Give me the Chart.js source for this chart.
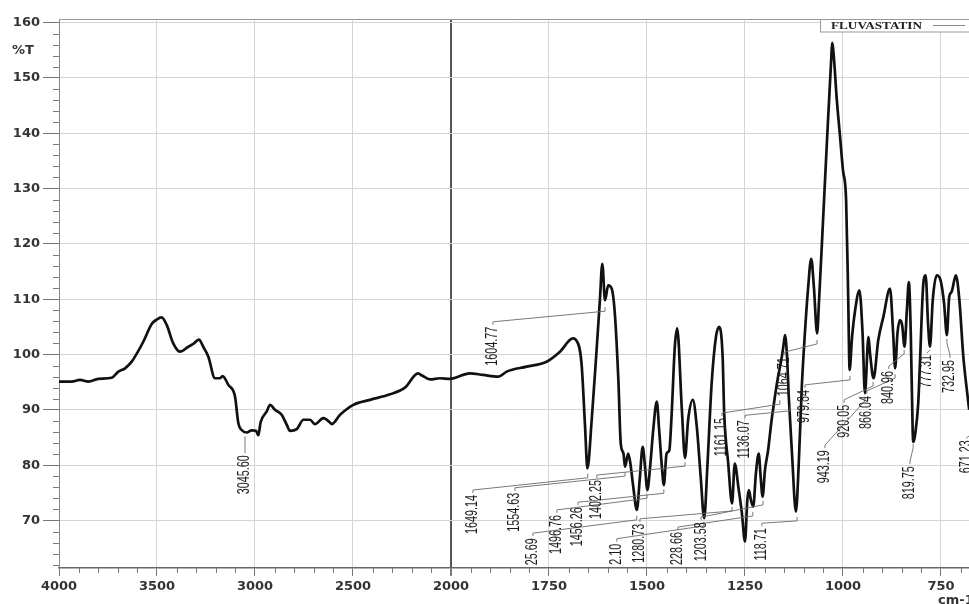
<!DOCTYPE html>
<html>
<head>
<meta charset="utf-8">
<title>FLUVASTATIN IR spectrum</title>
<script src="https://cdn.jsdelivr.net/npm/chart.js@4.4.1/dist/chart.umd.min.js"></script>
<style>
    html, body { margin: 0; padding: 0; background: #fff; }
    #spectrum-chart { display: block; }
</style>
</head>
<body>
<canvas id="spectrum-chart" width="969" height="604"></canvas>
<script>
// Spectrum trace (wavenumber in cm-1, transmittance in %T)
const wavenumbers = [4000, 3935, 3893, 3850, 3800, 3731, 3697, 3663, 3629, 3604, 3570, 3527, 3502, 3476, 3450,
    3417, 3383, 3340, 3315, 3286, 3264, 3238, 3204, 3179, 3165, 3136, 3102, 3085, 3063, 3042, 3017, 2995, 2983,
    2971, 2940, 2923, 2898, 2864, 2838, 2821, 2787, 2753, 2719, 2694, 2651, 2617, 2609, 2566, 2498, 2413, 2311,
    2235, 2168, 2148, 2107, 2056, 2005, 1952, 1918, 1879, 1858, 1807, 1756, 1722, 1689, 1681, 1667, 1658, 1652,
    1641, 1628, 1620, 1614, 1607, 1599, 1590, 1582, 1573, 1567, 1560, 1556, 1548, 1543, 1535, 1526, 1518, 1511,
    1505, 1499, 1492, 1484, 1475, 1469, 1462, 1457, 1450, 1443, 1437, 1429, 1423, 1411, 1403, 1395, 1383, 1373,
    1363, 1354, 1346, 1335, 1324, 1316, 1307, 1303, 1293, 1283, 1276, 1267, 1258, 1250, 1244, 1240, 1235, 1229,
    1222, 1215, 1210, 1205, 1199, 1191, 1182, 1176, 1168, 1156, 1152, 1148, 1143, 1138, 1130, 1120, 1113, 1105,
    1097, 1089, 1081, 1074, 1066, 1061, 1051, 1041, 1031, 1027, 1023, 1016, 1008, 1000, 992, 987, 983, 977, 969,
    958, 950, 944, 935, 931, 922, 910, 897, 880, 872, 867, 861, 855, 849, 843, 837, 832, 827, 822, 820, 816, 808,
    804, 795, 789, 783, 778, 771, 761, 751, 742, 735, 729, 723, 712, 703, 693, 684, 678, 671];
const transmittance = [95.1, 95.1, 95.4, 95.1, 95.6, 95.8, 96.9, 97.5, 98.7, 100.1, 102.3, 105.5, 106.3, 106.7, 105.3,
    102.0, 100.5, 101.4, 101.9, 102.7, 101.4, 99.6, 95.7, 95.7, 96.1, 94.5, 92.4, 87.6, 86.2, 85.9, 86.3, 86.2, 85.4,
    87.8, 89.7, 90.9, 90.0, 89.1, 87.3, 86.2, 86.5, 88.2, 88.2, 87.4, 88.5, 87.7, 87.4, 89.1, 90.9, 91.8, 92.8,
    94.0, 96.6, 96.2, 95.5, 95.7, 95.6, 96.6, 96.3, 96.0, 96.9, 97.8, 98.7, 100.5, 102.9, 102.6, 98.4, 87.0, 79.4,
    88.2, 101.4, 110.0, 116.4, 109.8, 112.5, 111.9, 107.4, 95.4, 84.0, 82.1, 79.7, 82.1, 80.6, 76.1, 71.9, 77.9, 83.3,
    79.7, 75.5, 79.7, 86.4, 91.5, 86.4, 79.7, 76.4, 82.1, 82.7, 89.3, 101.4, 104.7, 90.0, 81.3, 88.2, 91.8, 87.0,
    77.9, 70.4, 79.7, 94.8, 103.2, 105.0, 99.6, 89.3, 80.5, 73.1, 80.3, 76.1, 71.4, 66.2, 73.7, 75.5, 73.7, 72.5,
    78.6, 82.1, 77.9, 74.3, 79.1, 82.7, 88.2, 91.2, 95.0, 99.6, 101.5, 103.5, 100.0, 92.0, 82.0, 71.6, 80.0, 94.2,
    104.0, 112.0, 117.3, 112.0, 103.8, 109.8, 124.0, 138.3, 152.0, 156.3, 153.5, 146.3, 139.8, 133.3, 127.9, 111.6, 97.2, 103.0, 108.0,
    111.6, 103.8, 93.0, 103.2, 100.2, 95.7, 102.6, 106.8, 111.9, 103.8, 97.5, 103.8, 106.2, 105.3, 101.4, 108.0, 113.1, 103.8, 85.7, 84.2, 85.5, 91.2,
    97.8, 112.8, 114.3, 105.6, 101.4, 109.8, 114.3, 113.4, 109.2, 103.5, 110.4, 111.3, 114.3, 109.8, 99.6, 93.6, 90.0, 86.0];

// Axis ticks
const xTickLabels = [4000, 3500, 3000, 2500, 2000, 1750, 1500, 1250, 1000, 750];
const yTickLabels = [70, 80, 90, 100, 110, 120, 130, 140, 150, 160];

// Peak pick labels (text, tip of the leader on the trace, top of the text)
const peakLabels = ['3045.60', '1604.77', '1649.14', '1554.63', '25.69', '1496.76', '1456.26', '1402.25', '2.10',
    '1280.73', '228.66', '1203.58', '1161.15', '1136.07', '118.71', '1064.71', '979.84', '943.19', '920.05',
    '866.04', '840.96', '819.75', '777.31', '732.95', '671.23'];
const peakTipWavenumbers = [3051, 1607, 1651, 1556, 1526, 1500, 1457, 1403, 1355, 1283, 1230, 1204, 1161, 1135,
    1117, 1066, 982, 944, 923, 867, 844, 821, 778, 735, 671];
const peakTipValues = [85.6, 108.9, 78.8, 79.1, 71.2, 75.1, 76.0, 80.9, 70.1, 72.8, 71.9, 73.9, 92.1, 90.9, 71.0,
    103.0, 96.5, 92.7, 95.4, 96.8, 101.2, 84.2, 101.2, 103.2, 86.0];
const labelWavenumbers = [3051, 1893, 1944, 1837, 1791, 1730, 1676, 1628, 1577, 1518, 1421, 1362, 1309, 1250, 1207,
    1150, 1097, 1046, 997, 939, 883, 829, 786, 727, 686];
const labelTopValues = [81.8, 105.0, 74.6, 75.0, 66.8, 71.0, 72.4, 77.3, 65.8, 69.4, 67.9, 69.7, 88.5, 88.1, 68.6,
    99.5, 93.6, 82.7, 90.9, 92.5, 97.0, 79.8, 99.9, 99.0, 84.5];

const seriesName = 'FLUVASTATIN';

// The instrument halves the scale above 2000 cm-1
function toAxis(wn) {
    return wn >= 2000 ? 4000 - wn : 2000 + 2 * (2000 - wn);
}

function fromAxis(u) {
    return u <= 2000 ? 4000 - u : 2000 - (u - 2000) / 2;
}

document.addEventListener('DOMContentLoaded', function() {
    const ctx = document.getElementById('spectrum-chart').getContext('2d');
    const tickFont = { family: 'DejaVu Sans', size: 13, weight: 'bold' };

    // Minor ticks, frame, axis title and legend box
    const decorPlugin = {
        id: 'decor',
        beforeDatasetsDraw(chart) {
            const { ctx: c, chartArea: area, scales: { x, y } } = chart;
            c.save();
            c.strokeStyle = '#777';
            c.lineWidth = 1;
            c.beginPath();
            for (let w = 3900; w > 2000; w -= 100) {
                if (w % 500 === 0) continue;
                const px = Math.round(x.getPixelForValue(toAxis(w))) + 0.5;
                c.moveTo(px, area.bottom);
                c.lineTo(px, area.bottom + 5);
            }
            for (let w = 1950; w >= 700; w -= 50) {
                if (w % 250 === 0) continue;
                const px = Math.round(x.getPixelForValue(toAxis(w))) + 0.5;
                c.moveTo(px, area.bottom);
                c.lineTo(px, area.bottom + 5);
            }
            for (let v = 62; v <= 160; v += 2) {
                if (v % 10 === 0) continue;
                const py = Math.round(y.getPixelForValue(v)) + 0.5;
                c.moveTo(area.left - 6, py);
                c.lineTo(area.left, py);
            }
            c.stroke();

            // top frame line
            c.strokeStyle = '#999';
            c.beginPath();
            c.moveTo(area.left, area.top + 0.5);
            c.lineTo(area.right, area.top + 0.5);
            c.stroke();
            c.restore();
        },
        afterDatasetsDraw(chart) {
            const { ctx: c, chartArea: area, scales: { x, y } } = chart;
            c.save();
            c.beginPath();
            c.rect(area.left, area.top, area.right - area.left, area.bottom - area.top);
            c.clip();

            peakLabels.forEach((text, i) => {
                const tx = x.getPixelForValue(toAxis(peakTipWavenumbers[i]));
                const ty = y.getPixelForValue(peakTipValues[i]);
                const lx = x.getPixelForValue(toAxis(labelWavenumbers[i]));
                const ly = y.getPixelForValue(labelTopValues[i]);

                // leader line
                c.strokeStyle = '#6a6a6a';
                c.lineWidth = 0.9;
                c.beginPath();
                const y1 = ty + 6;
                const y2 = ly - 5;
                if (y2 <= y1) {
                    c.moveTo(tx, ty + 2);
                    c.lineTo(lx, ly - 2);
                } else {
                    c.moveTo(tx, ty + 2);
                    c.lineTo(tx, y1);
                    c.lineTo(lx, y2);
                    c.lineTo(lx, ly - 2);
                }
                c.stroke();

                // rotated value, reading bottom to top
                c.save();
                c.translate(lx, ly);
                c.rotate(-Math.PI / 2);
                c.scale(0.9, 1.35);
                c.fillStyle = '#1a1a1a';
                c.font = '12px "Liberation Sans"';
                c.textAlign = 'right';
                c.textBaseline = 'middle';
                c.fillText(text, 0, 0);
                c.restore();
            });
            c.restore();
        },
        afterDraw(chart) {
            const { ctx: c, chartArea: area } = chart;
            c.save();
            // y axis title
            c.fillStyle = '#333';
            c.font = 'bold 13px "DejaVu Sans"';
            c.textAlign = 'left';
            c.textBaseline = 'middle';
            c.fillText('%T', 12, 51);

            // x axis unit, partly off the page
            c.textBaseline = 'top';
            c.fillText('cm-1', 938, 594);

            // legend box
            c.fillStyle = '#fff';
            c.fillRect(820, area.top, 150, 13);
            c.strokeStyle = '#999';
            c.lineWidth = 1;
            c.strokeRect(820.5, area.top + 0.5, 160, 12.5);
            c.save();
            c.translate(831, area.top + 7);
            c.scale(1.32, 1);
            c.fillStyle = '#222';
            c.font = 'bold 10px "Liberation Serif"';
            c.textAlign = 'left';
            c.textBaseline = 'middle';
            c.fillText(seriesName, 0, 0);
            c.restore();
            c.strokeStyle = '#888';
            c.beginPath();
            c.moveTo(933, area.top + 6.5);
            c.lineTo(965, area.top + 6.5);
            c.stroke();
            c.restore();
        }
    };

    new Chart(ctx, {
        type: 'line',
        data: {
            datasets: [{
                label: seriesName,
                data: wavenumbers.map((w, i) => ({ x: toAxis(w), y: transmittance[i] })),
                borderColor: '#111',
                borderWidth: 2.7,
                pointRadius: 0,
                fill: false,
                cubicInterpolationMode: 'monotone'
            }]
        },
        options: {
            responsive: false,
            animation: false,
            layout: { padding: { top: 19, right: 0, bottom: 0, left: 0 } },
            plugins: {
                legend: { display: false },
                tooltip: { enabled: false }
            },
            scales: {
                x: {
                    type: 'linear',
                    min: 0,
                    max: 4643,
                    afterBuildTicks: scale => {
                        scale.ticks = xTickLabels.map(w => ({ value: toAxis(w) }));
                    },
                    afterFit: scale => { scale.height = 36; },
                    ticks: {
                        autoSkip: false,
                        maxRotation: 0,
                        padding: 3,
                        color: '#333',
                        font: tickFont,
                        callback: value => Math.round(fromAxis(value))
                    },
                    grid: {
                        color: c => (c.tick && c.tick.value === 2000 ? '#555' : '#d4d4d4'),
                        lineWidth: c => (c.tick && c.tick.value === 2000 ? 2 : 1),
                        tickLength: 8,
                        tickColor: '#777'
                    },
                    border: { color: '#666', width: 1.5 }
                },
                y: {
                    min: 61.41,
                    max: 160.63,
                    afterBuildTicks: scale => {
                        scale.ticks = yTickLabels.map(v => ({ value: v }));
                    },
                    afterFit: scale => { scale.width = 59; },
                    ticks: {
                        padding: 3,
                        color: '#333',
                        font: tickFont
                    },
                    grid: {
                        color: '#d4d4d4',
                        tickLength: 16,
                        tickColor: '#777'
                    },
                    border: { color: '#888', width: 1 }
                }
            }
        },
        plugins: [decorPlugin]
    });
});
</script>
</body>
</html>
